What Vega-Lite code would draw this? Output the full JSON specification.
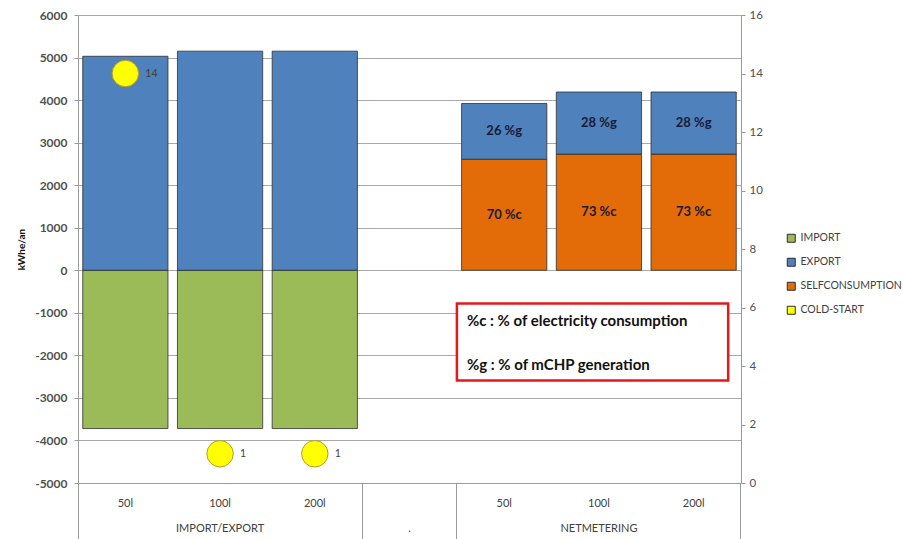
{
  "$schema": "https://vega.github.io/schema/vega-lite/v6.json",
  "width": 663,
  "height": 468,
  "autosize": "none",
  "padding": {"left": 78, "top": 15, "right": 162, "bottom": 56},
  "background": "white",
  "config": {
    "font": "Lato",
    "view": {"stroke": null},
    "axis": {"labelFont": "Lato", "titleFont": "Lato"},
    "legend": {"labelFont": "Lato"}
  },
  "resolve": {"scale": {"y": "independent"}, "axis": {"x": "independent"}},
  "layer": [
    {
      "data": {
        "values": [
          {"cat": "IE-50l", "series": "IMPORT", "kwh": -3720, "ord": 0, "lbl": null},
          {"cat": "IE-50l", "series": "EXPORT", "kwh": 5030, "ord": 2, "lbl": null},
          {"cat": "IE-100l", "series": "IMPORT", "kwh": -3720, "ord": 0, "lbl": null},
          {"cat": "IE-100l", "series": "EXPORT", "kwh": 5150, "ord": 2, "lbl": null},
          {"cat": "IE-200l", "series": "IMPORT", "kwh": -3720, "ord": 0, "lbl": null},
          {"cat": "IE-200l", "series": "EXPORT", "kwh": 5150, "ord": 2, "lbl": null},
          {"cat": "NM-50l", "series": "SELFCONSUMPTION", "kwh": 2610, "ord": 1, "lbl": "70 %c"},
          {"cat": "NM-50l", "series": "EXPORT", "kwh": 1310, "ord": 2, "lbl": "26 %g"},
          {"cat": "NM-100l", "series": "SELFCONSUMPTION", "kwh": 2730, "ord": 1, "lbl": "73 %c"},
          {"cat": "NM-100l", "series": "EXPORT", "kwh": 1460, "ord": 2, "lbl": "28 %g"},
          {"cat": "NM-200l", "series": "SELFCONSUMPTION", "kwh": 2730, "ord": 1, "lbl": "73 %c"},
          {"cat": "NM-200l", "series": "EXPORT", "kwh": 1460, "ord": 2, "lbl": "28 %g"}
        ]
      },
      "transform": [
        {"stack": "kwh", "groupby": ["cat"], "sort": [{"field": "ord"}], "as": ["lo", "hi"]},
        {"calculate": "(datum.lo + datum.hi) / 2", "as": "mid"}
      ],
      "encoding": {
        "x": {
          "field": "cat",
          "type": "nominal",
          "sort": null,
          "scale": {
            "domain": ["IE-50l", "IE-100l", "IE-200l", "gap", "NM-50l", "NM-100l", "NM-200l"],
            "paddingInner": 0.1,
            "paddingOuter": 0.05
          },
          "axis": {
            "orient": "bottom",
            "title": null,
            "ticks": false,
            "domain": true,
            "domainColor": "#9a9a9a",
            "labelAngle": 0,
            "labelOverlap": false,
            "labelFontSize": 11,
            "labelColor": "#404040",
            "labelPadding": 14,
            "labelLineHeight": 25,
            "labelExpr": "datum.value == 'IE-100l' ? ['100l', 'IMPORT/EXPORT'] : datum.value == 'NM-100l' ? ['100l', 'NETMETERING'] : datum.value == 'gap' ? ['', '.'] : [slice(datum.value, 3), '']"
          }
        }
      },
      "layer": [
        {
          "mark": {"type": "bar", "stroke": "#2e2e2e", "strokeWidth": 0.8},
          "encoding": {
            "y": {
              "field": "lo",
              "type": "quantitative",
              "scale": {"domain": [-5000, 6000], "nice": false, "zero": false},
              "axis": {
                "orient": "left",
                "title": "kWhe/an",
                "titleFontSize": 10,
                "titleFontWeight": "bold",
                "titleColor": "#111111",
                "titlePadding": 8,
                "values": [-5000, -4000, -3000, -2000, -1000, 0, 1000, 2000, 3000, 4000, 5000, 6000],
                "labelExpr": "'' + datum.value",
                "labelFontSize": 12,
                "labelFontWeight": "bold",
                "labelColor": "#505050",
                "labelPadding": 7,
                "tickSize": 4,
                "tickColor": "#9a9a9a",
                "domainColor": "#9a9a9a",
                "grid": true,
                "gridColor": "#a8a8a8",
                "gridWidth": 1
              }
            },
            "y2": {"field": "hi"},
            "color": {
              "field": "series",
              "type": "nominal",
              "scale": {
                "domain": ["IMPORT", "EXPORT", "SELFCONSUMPTION", "COLD-START"],
                "range": ["#9BBB59", "#4F81BD", "#E36C09", "#FFFF00"]
              },
              "legend": {
                "title": null,
                "orient": "none",
                "legendX": 708,
                "legendY": 218,
                "symbolType": "square",
                "symbolSize": 64,
                "symbolStrokeWidth": 1,
                "labelFontSize": 10.5,
                "labelColor": "#404040",
                "labelOffset": 4,
                "rowPadding": 11,
                "encode": {
                  "symbols": {
                    "shape": {"condition": {"test": "datum.value == 'COLD-START'", "value": "circle"}, "value": "square"},
                    "stroke": {"value": {"expr": "datum.value == 'IMPORT' ? '#5e7a2c' : datum.value == 'EXPORT' ? '#2f5485' : datum.value == 'SELFCONSUMPTION' ? '#8f4206' : '#b59b2e'"}}
                  }
                }
              }
            }
          }
        },
        {
          "transform": [{"filter": "datum.lbl != null"}],
          "mark": {"type": "text", "fontSize": 13, "fontWeight": "bold", "color": "#1a1a33", "baseline": "middle"},
          "encoding": {
            "y": {"field": "mid", "type": "quantitative"},
            "text": {"field": "lbl"}
          }
        }
      ]
    },
    {
      "data": {
        "values": [
          {"cat": "IE-50l", "series": "COLD-START", "cs": 14},
          {"cat": "IE-100l", "series": "COLD-START", "cs": 1},
          {"cat": "IE-200l", "series": "COLD-START", "cs": 1}
        ]
      },
      "encoding": {
        "x": {
          "field": "cat",
          "type": "nominal",
          "axis": {
            "orient": "bottom",
            "values": ["NM-200l"],
            "bandPosition": 1.0555,
            "labels": false,
            "domain": false,
            "grid": false,
            "title": null,
            "ticks": true,
            "tickSize": 56,
            "tickColor": "#9a9a9a"
          }
        },
        "y": {
          "field": "cs",
          "type": "quantitative",
          "scale": {"domain": [0, 16], "nice": false},
          "axis": {
            "orient": "right",
            "title": null,
            "values": [0, 2, 4, 6, 8, 10, 12, 14, 16],
            "labelFontSize": 11.5,
            "labelColor": "#505050",
            "labelPadding": 4,
            "tickSize": 4,
            "tickColor": "#9a9a9a",
            "domainColor": "#9a9a9a",
            "grid": false
          }
        }
      },
      "layer": [
        {
          "mark": {"type": "point", "filled": true, "size": 700, "opacity": 1, "stroke": "#b59b2e", "strokeWidth": 1},
          "encoding": {
            "color": {
              "field": "series",
              "type": "nominal",
              "legend": {
                "title": null,
                "orient": "none",
                "legendX": 708,
                "legendY": 218,
                "symbolType": "square",
                "symbolSize": 64,
                "symbolStrokeWidth": 1,
                "labelFontSize": 10.5,
                "labelColor": "#404040",
                "labelOffset": 4,
                "rowPadding": 11,
                "encode": {
                  "symbols": {
                    "shape": {"condition": {"test": "datum.value == 'COLD-START'", "value": "circle"}, "value": "square"},
                    "stroke": {"value": {"expr": "datum.value == 'IMPORT' ? '#5e7a2c' : datum.value == 'EXPORT' ? '#2f5485' : datum.value == 'SELFCONSUMPTION' ? '#8f4206' : '#b59b2e'"}}
                  }
                }
              }
            }
          }
        },
        {
          "mark": {"type": "text", "align": "left", "baseline": "middle", "dx": 20, "fontSize": 10.5, "color": "#404040"},
          "encoding": {"text": {"field": "cs"}}
        }
      ]
    },
    {
      "data": {"values": [{}]},
      "encoding": {
        "x": {
          "datum": "NM-50l",
          "type": "nominal",
          "bandPosition": -0.055,
          "axis": {
            "orient": "bottom",
            "values": ["IE-50l", "gap", "NM-50l"],
            "bandPosition": -0.0555,
            "labels": false,
            "domain": false,
            "grid": false,
            "title": null,
            "ticks": true,
            "tickSize": 56,
            "tickColor": "#9a9a9a"
          }
        }
      },
      "layer": [
        {
          "mark": {"type": "rect", "fill": "white", "stroke": "#e3191c", "strokeWidth": 2.5},
          "encoding": {
            "x2": {"datum": "NM-200l", "bandPosition": 0.905},
            "y": {"datum": -780, "type": "quantitative", "scale": {"domain": [-5000, 6000], "nice": false}, "axis": null},
            "y2": {"datum": -2590}
          }
        },
        {
          "mark": {"type": "text", "text": "%c  : % of electricity consumption", "align": "left", "baseline": "middle", "fontSize": 15, "fontWeight": "bold", "color": "#111111", "dx": 10},
          "encoding": {
            "y": {"datum": -1190, "type": "quantitative", "scale": {"domain": [-5000, 6000], "nice": false}, "axis": null}
          }
        },
        {
          "mark": {"type": "text", "text": "%g : % of mCHP generation", "align": "left", "baseline": "middle", "fontSize": 15, "fontWeight": "bold", "color": "#111111", "dx": 10},
          "encoding": {
            "y": {"datum": -2230, "type": "quantitative", "scale": {"domain": [-5000, 6000], "nice": false}, "axis": null}
          }
        }
      ]
    }
  ]
}
